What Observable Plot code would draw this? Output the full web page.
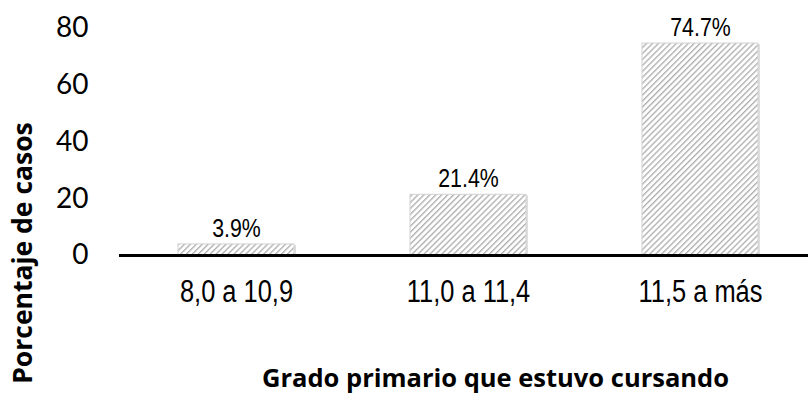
<!DOCTYPE html>
<html>
<head>
<meta charset="utf-8">
<script src="https://cdn.jsdelivr.net/npm/d3@7"></script>
<script src="https://cdn.jsdelivr.net/npm/@observablehq/plot@0.6"></script>
<style>
  html, body { margin: 0; padding: 0; background: #fff; }
  #chart { width: 808px; height: 394px; }
</style>
</head>
<body>
<div id="chart"></div>
<script>
// Grade ranges and percentage of cases
const grados = ["8,0 a 10,9", "11,0 a 11,4", "11,5 a más"];
const porcentajes = [3.9, 21.4, 74.7];
const yTicks = [0, 20, 40, 60, 80];

const data = grados.map((g, i) => ({grado: g, pct: porcentajes[i]}));

const narrow = "'Liberation Sans Narrow', 'Liberation Sans', Arial, sans-serif";
const boldFont = "'Open Sans', sans-serif";

const chart = Plot.plot({
  width: 808,
  height: 394,
  marginTop: 28,
  marginBottom: 139,
  marginLeft: 119,
  marginRight: 0,
  style: {background: "#fff", overflow: "visible"},
  x: {domain: grados, range: [119, 816], paddingInner: 0.5, paddingOuter: 0.25, label: null},
  y: {domain: [0, 80], label: null},
  marks: [
    Plot.axisY({
      ticks: yTicks,
      tickSize: 0,
      tickPadding: 31,
      fontSize: 28,
      fontFamily: "Lato, 'Open Sans', sans-serif",
      fill: "#000",
      label: null
    }),
    Plot.axisX({
      tickSize: 0,
      tickPadding: 24,
      fontSize: 31,
      fontFamily: narrow,
      fill: "#000",
      label: null
    }),
    // soft shadow to the right of each bar
    Plot.barY(data, {
      x: "grado", y: "pct",
      fill: "#000", fillOpacity: 0.13,
      dx: 2, dy: 1
    }),
    Plot.barY(data, {
      x: "grado", y: "pct",
      fill: "url(#hatch)",
      stroke: "#d2d2d2",
      strokeWidth: 1
    }),
    Plot.text(data, {
      x: "grado", y: "pct",
      text: d => d.pct.toFixed(1) + "%",
      dy: -16,
      fontSize: 26,
      fontFamily: narrow,
      fill: "#000"
    }),
    Plot.ruleY([0], {stroke: "#000", strokeWidth: 3}),
    Plot.text(["Porcentaje de casos"], {
      frameAnchor: "left",
      textAnchor: "middle",
      lineAnchor: "middle",
      dx: -96, dy: 111,
      rotate: -90,
      fontSize: 26.5,
      fontWeight: "bold",
      fontFamily: boldFont,
      fill: "#000"
    }),
    Plot.text(["Grado primario que estuvo cursando"], {
      frameAnchor: "bottom",
      textAnchor: "middle",
      lineAnchor: "middle",
      dx: 31.5, dy: 123,
      fontSize: 25.5,
      fontWeight: "bold",
      fontFamily: boldFont,
      fill: "#000"
    })
  ]
});

// Diagonal hatch pattern used to fill the bars
const svg = d3.select(chart);
const defs = svg.insert("defs", ":first-child");
const pat = defs.append("pattern")
  .attr("id", "hatch")
  .attr("patternUnits", "userSpaceOnUse")
  .attr("width", 4.2)
  .attr("height", 4.2)
  .attr("patternTransform", "rotate(45)");
pat.append("rect").attr("width", 4.2).attr("height", 4.2).attr("fill", "#fff");
pat.append("line")
  .attr("x1", 0.7).attr("y1", 0).attr("x2", 0.7).attr("y2", 4.2)
  .attr("stroke", "#a6a6a6").attr("stroke-width", 1.2);

document.getElementById("chart").appendChild(chart);

// Condense the sans labels so they read like a narrow face
svg.selectAll('g[font-family*="Narrow"] text').each(function () {
  const w = this.getComputedTextLength();
  this.setAttribute("textLength", (w * 0.82).toFixed(1));
  this.setAttribute("lengthAdjust", "spacingAndGlyphs");
});
</script>
</body>
</html>
